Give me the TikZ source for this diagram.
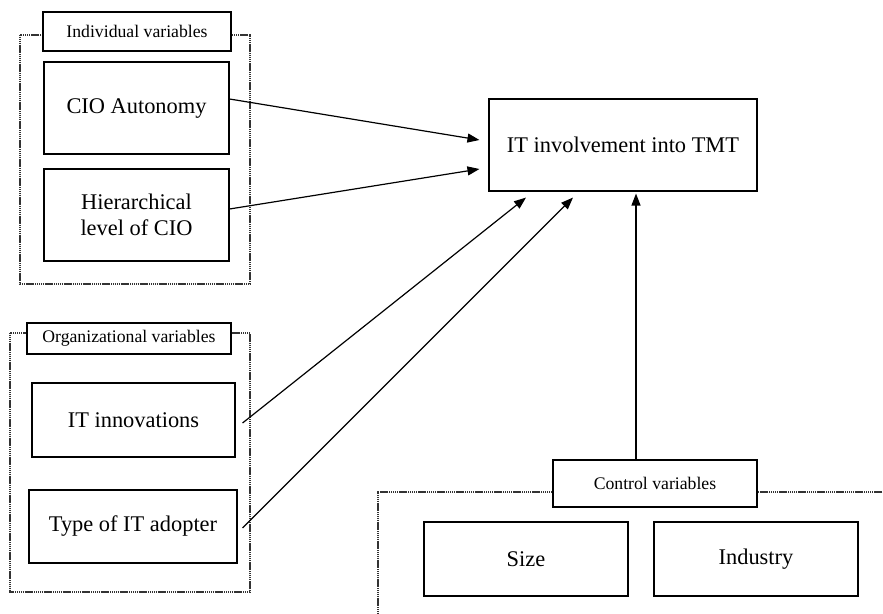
\documentclass[tikz,border=0pt]{standalone}
\usepackage{fontspec}
\setmainfont{Liberation Serif}
\usetikzlibrary{arrows.meta}
\begin{document}
\begin{tikzpicture}[x=1pt,y=-1pt,
  box/.style={draw,line width=1.1pt,fill=white,inner sep=0pt,align=center,font=\fontsize{22.4}{26}\selectfont},
  lbl/.style={draw,line width=1.1pt,fill=white,inner sep=0pt,align=center,font=\fontsize{17.7}{20}\selectfont},
  grp/.style={draw=black!80,line width=1.3pt,dash pattern=on 1.3pt off 0.6pt},
  arr/.style={line width=1.2pt,-{Triangle[length=12pt,width=9pt]}}]
\useasboundingbox (0,0) rectangle (883,613);
% group frames
\draw[grp] (20,35) rectangle (250,284);
\draw[grp] (10,333) rectangle (250,592);
\draw[grp] (890,492) -- (378,492) -- (378,620);
% labels
\node[lbl,minimum width=188pt,minimum height=39pt] (indl) at (137,31.5) {Individual variables};
\node[lbl,minimum width=204pt,minimum height=31pt] (orgl) at (129,338.5) {Organizational variables};
\node[lbl,minimum width=204pt,minimum height=47pt] (ctrl) at (655,483.5) {Control variables};
% boxes
\node[box,minimum width=185pt,minimum height=92pt] (cio) at (136.5,108) {CIO Autonomy};
\node[box,minimum width=185pt,minimum height=92pt] (hier) at (136.5,215) {Hierarchical\\level of CIO};
\node[box,minimum width=203pt,minimum height=74pt] (inno) at (133.5,420) {IT innovations};
\node[box,minimum width=208pt,minimum height=73pt] (type) at (133,526.5) {Type of IT adopter};
\node[box,minimum width=204pt,minimum height=74pt] (size) at (526,559) {Size};
\node[box,minimum width=204pt,minimum height=74pt] (ind) at (756,559) {Industry};
\node[box,minimum width=268pt,minimum height=92pt] (tmt) at (623,145) {IT involvement into TMT};
% arrows
\draw[arr] ([yshift=9pt]cio.east) -- ([xshift=-9pt,yshift=5pt]tmt.west);
\draw[arr] ([yshift=6pt]hier.east) -- ([xshift=-9pt,yshift=-24pt]tmt.west);
\draw[arr] ([xshift=7pt,yshift=-3pt]inno.east) -- ([xshift=-97pt,yshift=-6pt]tmt.south);
\draw[arr] ([xshift=5pt,yshift=-1.5pt]type.east) -- ([xshift=-50pt,yshift=-6pt]tmt.south);
\draw[arr] ([xshift=-19pt]ctrl.north) -- ([xshift=13pt,yshift=-2pt]tmt.south);
\end{tikzpicture}
\end{document}
